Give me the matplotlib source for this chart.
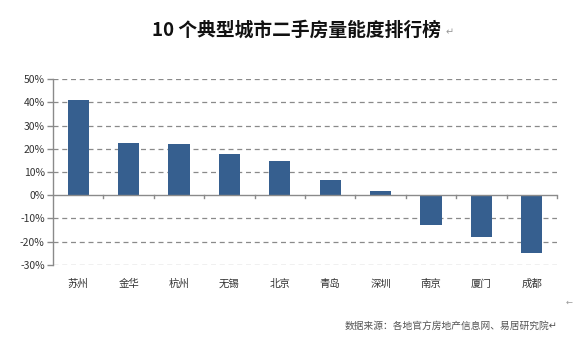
import matplotlib
matplotlib.use("Agg")
import matplotlib.pyplot as plt
from matplotlib.ticker import FuncFormatter, MultipleLocator

plt.rcParams['font.family'] = ['Noto Sans CJK SC', 'DejaVu Sans']

cities = ["苏州", "金华", "杭州", "无锡", "北京", "青岛", "深圳", "南京", "厦门", "成都"]
values = [41, 22.5, 22, 17.7, 14.7, 6.5, 1.7, -12.9, -18, -24.9]
title = "10 个典型城市二手房量能度排行榜"
source = "数据来源：各地官方房地产信息网、易居研究院"

fig = plt.figure(figsize=(5.77, 3.44), dpi=100)
ax = fig.add_axes([0.0919, 0.2297, 0.8734, 0.5406])

x = list(range(len(cities)))
ax.bar(x, values, width=0.42, color="#365F8F", zorder=3)

ax.set_xlim(-0.5, len(cities) - 0.5)
ax.set_ylim(-30, 50)
ax.yaxis.set_major_locator(MultipleLocator(10))
ax.yaxis.set_major_formatter(FuncFormatter(lambda v, p: f"{int(round(v))}%"))
for v in range(-30, 51, 10):
    if v != 0:
        ax.axhline(v, color="#8a8a8a", lw=0.9, ls=(0, (4, 3)), zorder=1)
ax.axhline(0, color="#8a8a8a", lw=1.0, zorder=4)

for s in ["top", "right", "bottom"]:
    ax.spines[s].set_visible(False)
ax.spines["left"].set_color("#8a8a8a")
ax.spines["left"].set_linewidth(1.0)

ax.tick_params(axis="y", length=4, width=1.0, color="#8a8a8a", labelsize=7.5,
               labelcolor="#333333", pad=2)
ax.set_xticks(x)
ax.set_xticklabels(cities, fontsize=7.5, color="#333333")
ax.tick_params(axis="x", length=0, pad=10)

# category boundary ticks on zero line
for b in [i + 0.5 for i in range(len(cities))]:
    ax.plot([b, b], [0, -1.2], color="#8a8a8a", lw=1.0, zorder=4, clip_on=False)

fig.text(0.513, 0.913, title, ha="center", va="center", fontsize=13.5,
         fontweight="bold", color="#111111")
fig.text(0.772, 0.905, "↵", ha="left", va="center", fontsize=7, color="#999999",
         family=["DejaVu Sans"])
fig.text(0.967, 0.052, source + "↵", ha="right", va="center", fontsize=7,
         color="#555555")
fig.text(0.993, 0.122, "←", ha="right", va="center", fontsize=6, color="#999999",
         family=["DejaVu Sans"])

fig.savefig("out.png", dpi=100, facecolor="white")
